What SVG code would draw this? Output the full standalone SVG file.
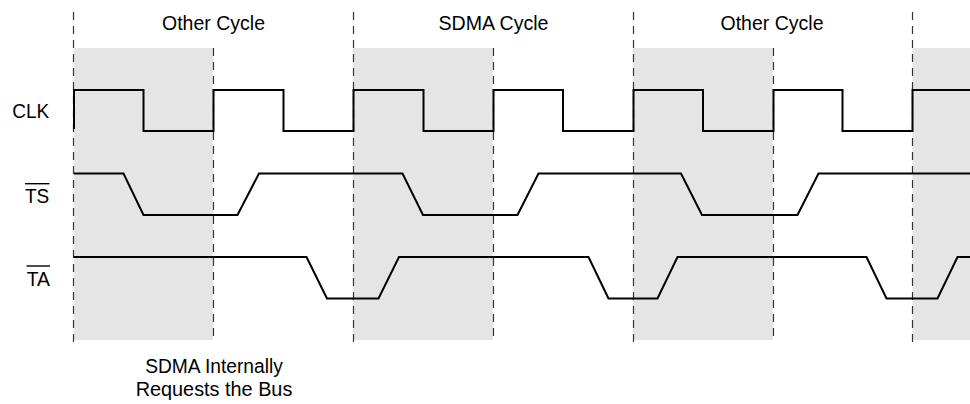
<svg xmlns="http://www.w3.org/2000/svg" width="970" height="404" viewBox="0 0 970 404">
<style>
.shade{fill:#e5e5e5;stroke:none}
.grid{stroke:#333;stroke-width:1.2;stroke-dasharray:8 6;fill:none}
.sig{stroke:#000;stroke-width:2;fill:none;stroke-linejoin:miter}
.t{font-family:"Liberation Sans",Arial,sans-serif;font-size:20.5px;fill:#000}
.ol{stroke:#000;stroke-width:1.4}
</style>
<rect width="970" height="404" fill="#fff"/>
<g id="shading">
<rect class="shade" x="74" y="48" width="139" height="292"/>
<rect class="shade" x="353" y="48" width="140" height="292"/>
<rect class="shade" x="633" y="48" width="140" height="292"/>
<rect class="shade" x="912.5" y="48" width="58" height="292"/>
</g>
<g id="gridlines">
<line class="grid" x1="73.5" y1="12" x2="73.5" y2="342"/>
<line class="grid" x1="213.5" y1="48" x2="213.5" y2="342"/>
<line class="grid" x1="353.5" y1="12" x2="353.5" y2="342"/>
<line class="grid" x1="493.5" y1="48" x2="493.5" y2="342"/>
<line class="grid" x1="633.5" y1="12" x2="633.5" y2="342"/>
<line class="grid" x1="773.5" y1="48" x2="773.5" y2="342"/>
<line class="grid" x1="912.5" y1="12" x2="912.5" y2="342"/>
</g>
<g id="headings">
<text class="t" x="213.5" y="30" text-anchor="middle" textLength="103" lengthAdjust="spacingAndGlyphs">Other Cycle</text>
<text class="t" x="493.5" y="30" text-anchor="middle" textLength="110" lengthAdjust="spacingAndGlyphs">SDMA Cycle</text>
<text class="t" x="772" y="30" text-anchor="middle" textLength="103" lengthAdjust="spacingAndGlyphs">Other Cycle</text>
</g>
<g id="clk">
<text class="t" x="12.3" y="117.7" textLength="37" lengthAdjust="spacingAndGlyphs">CLK</text>
<path class="sig" d="M74,129 V90 H143.5 V131 H213.5 V90 H283.5 V131 H353.5 V90 H423.5 V131 H493.5 V90 H563 V131 H633.5 V90 H703 V131 H773.5 V90 H842.5 V131 H912.5 V90 H970"/>
</g>
<g id="ts">
<text class="t" x="25" y="203.3" textLength="24.3" lengthAdjust="spacingAndGlyphs">TS</text>
<line class="ol" x1="25" y1="183.7" x2="49.5" y2="183.7"/>
<path class="sig" d="M74,173.5 H123.5 L143.5,215 H237.5 L259,173.5 H402.5 L423,215 H517.5 L538.5,173.5 H681 L702,215 H797.5 L818.5,173.5 H970"/>
</g>
<g id="ta">
<text class="t" x="26.7" y="285.7" textLength="23.3" lengthAdjust="spacingAndGlyphs">TA</text>
<line class="ol" x1="26.5" y1="266" x2="50" y2="266"/>
<path class="sig" d="M74,257 H306.5 L327,298.5 H378.5 L399,257 H588.5 L608.5,298.5 H657.5 L677.5,257 H866.5 L886.5,298.5 H937.5 L957.5,257 H970"/>
</g>
<g id="note">
<text class="t" x="214" y="373" text-anchor="middle" textLength="137.7" lengthAdjust="spacingAndGlyphs">SDMA Internally</text>
<text class="t" x="214" y="395.5" text-anchor="middle" textLength="156.7" lengthAdjust="spacingAndGlyphs">Requests the Bus</text>
</g>
</svg>
